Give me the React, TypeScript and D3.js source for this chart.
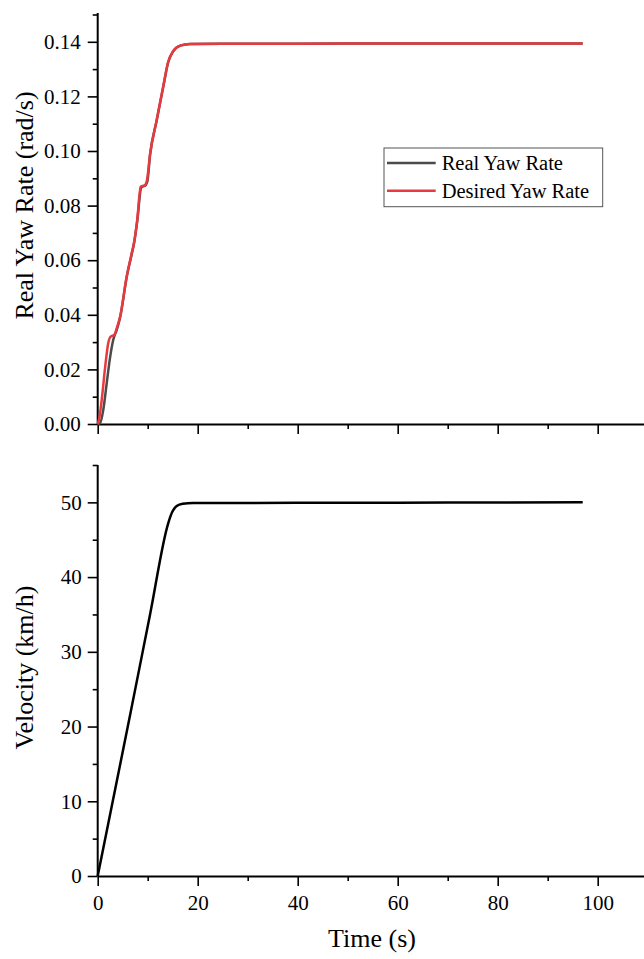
import React, { useEffect, useRef } from 'react';
import * as d3 from 'd3';

// time (s) and yaw rate (rad/s)
const desiredTime = [0, 0.3, 0.8, 1.5, 2.1, 2.6, 3.3, 3.8, 4.5, 5.8, 6.8, 7.3, 7.9, 8.6, 9.0, 9.3, 9.8, 10.5, 11.8, 13.1, 14.1, 15.1, 16.5, 18.5, 25, 40, 60, 80, 97];
const desiredYaw = [0, 0.002, 0.0088, 0.021, 0.0296, 0.032, 0.0326, 0.035, 0.0395, 0.054, 0.0625, 0.0668, 0.0747, 0.0869, 0.0872, 0.0873, 0.0888, 0.0992, 0.1114, 0.1236, 0.1327, 0.1366, 0.1386, 0.1392, 0.1393, 0.1393, 0.1394, 0.1394, 0.1394];

const realTime = [0, 0.46, 1.1, 1.8, 2.5, 3.1, 3.8, 4.5, 5.8, 6.8, 7.3, 7.9, 8.7, 9.1, 9.4, 9.9, 10.5, 11.8, 13.1, 14.1, 15.1, 16.5, 18.5, 25, 40, 60, 80, 97];
const realYaw = [0, 0.0003, 0.005, 0.0149, 0.0247, 0.0308, 0.0344, 0.0392, 0.0538, 0.0622, 0.0665, 0.0742, 0.0866, 0.0871, 0.0872, 0.0886, 0.099, 0.1112, 0.1234, 0.1325, 0.1365, 0.1386, 0.1392, 0.1393, 0.1393, 0.1394, 0.1394, 0.1394];

// time (s) and velocity (km/h)
const velTime = [0, 6.5, 10.5, 14.1, 14.9, 15.8, 17, 19.1, 30, 50, 70, 97];
const velocity = [0, 21.6, 35.1, 47.2, 48.7, 49.5, 49.8, 49.9, 49.92, 49.95, 49.97, 50.0];

const xMajor = [0, 20, 40, 60, 80, 100];
const xMinor = [10, 30, 50, 70, 90, 110];
const yawMajor = [0, 0.02, 0.04, 0.06, 0.08, 0.1, 0.12, 0.14];
const yawMinor = [0.01, 0.03, 0.05, 0.07, 0.09, 0.11, 0.13, 0.15];
const velMajor = [0, 10, 20, 30, 40, 50];
const velMinor = [5, 15, 25, 35, 45, 55];

const legendLabels = ['Real Yaw Rate', 'Desired Yaw Rate'];
const colors = ['#4b4b4b', '#e8393e'];

const W = 644, H = 959;
const FONT = 'Liberation Serif, Times New Roman, serif';

export default function App() {
  const ref = useRef<SVGSVGElement>(null);

  useEffect(() => {
    const svg = d3.select(ref.current);
    svg.selectAll('*').remove();

    const x = d3.scaleLinear().domain([0, 110]).range([97.7, 647.7]);
    const yTop = d3.scaleLinear().domain([0, 0.15]).range([424, 14.5]);
    const yBot = d3.scaleLinear().domain([0, 55]).range([876, 465]);

    const styleAxis = (g: any) => {
      g.attr('font-family', FONT).attr('font-size', 21);
      g.select('.domain').attr('stroke', '#000').attr('stroke-width', 2);
      g.selectAll('.tick line').attr('stroke', '#000').attr('stroke-width', 1.6);
      g.selectAll('.tick text').style('font-family', FONT).style('font-size', '21px').attr('fill', '#000');
    };

    // ----- top panel -----
    const gTopX = svg.append('g').attr('transform', 'translate(0,424)');
    gTopX.call(d3.axisBottom(x).tickValues(xMinor).tickSize(5).tickSizeOuter(0).tickFormat(() => ''));
    styleAxis(gTopX);
    const gTopX2 = svg.append('g').attr('transform', 'translate(0,424)');
    gTopX2.call(d3.axisBottom(x).tickValues(xMajor).tickSize(10).tickSizeOuter(0).tickFormat(() => ''));
    styleAxis(gTopX2);
    gTopX2.select('.domain').remove();

    const gTopY = svg.append('g').attr('transform', 'translate(97.7,0)');
    gTopY.call(d3.axisLeft(yTop).tickValues(yawMinor).tickSize(5).tickSizeOuter(0).tickFormat(() => ''));
    styleAxis(gTopY);
    const gTopY2 = svg.append('g').attr('transform', 'translate(97.7,0)');
    gTopY2.call(d3.axisLeft(yTop).tickValues(yawMajor).tickSize(10).tickPadding(7).tickSizeOuter(0).tickFormat(d3.format('.2f')));
    styleAxis(gTopY2);
    gTopY2.select('.domain').remove();
    gTopY.select('.domain').attr('d', 'M0,424V13');

    const line = d3.line<number>().curve(d3.curveMonotoneX);

    svg.append('path')
      .attr('d', line(realTime.map((t, i) => [x(t), yTop(realYaw[i])]) as any))
      .attr('fill', 'none').attr('stroke', colors[0]).attr('stroke-width', 2.5);
    svg.append('path')
      .attr('d', line(desiredTime.map((t, i) => [x(t), yTop(desiredYaw[i])]) as any))
      .attr('fill', 'none').attr('stroke', colors[1]).attr('stroke-width', 2.5);

    // legend
    const lg = svg.append('g').attr('transform', 'translate(384,148)');
    lg.append('rect').attr('width', 218.7).attr('height', 58.7)
      .attr('fill', '#fff').attr('stroke', '#555').attr('stroke-width', 1);
    legendLabels.forEach((lab, i) => {
      const yy = 15 + i * 27.7;
      lg.append('line').attr('x1', 3).attr('x2', 51.7).attr('y1', yy).attr('y2', yy)
        .attr('stroke', colors[i]).attr('stroke-width', 2.5);
      lg.append('text').attr('x', 57.7).attr('y', yy + 7).text(lab)
        .attr('font-family', FONT).attr('font-size', 20.5).attr('fill', '#000');
    });

    svg.append('text').attr('transform', 'translate(33,205.5) rotate(-90)')
      .attr('text-anchor', 'middle').attr('font-family', FONT).attr('font-size', 26)
      .text('Real Yaw Rate (rad/s)');

    // ----- bottom panel -----
    const gBotX = svg.append('g').attr('transform', 'translate(0,876)');
    gBotX.call(d3.axisBottom(x).tickValues(xMinor).tickSize(5).tickSizeOuter(0).tickFormat(() => ''));
    styleAxis(gBotX);
    const gBotX2 = svg.append('g').attr('transform', 'translate(0,876)');
    gBotX2.call(d3.axisBottom(x).tickValues(xMajor).tickSize(10).tickPadding(9).tickSizeOuter(0).tickFormat(d3.format('d')));
    styleAxis(gBotX2);
    gBotX2.select('.domain').remove();

    const gBotY = svg.append('g').attr('transform', 'translate(97.7,0)');
    gBotY.call(d3.axisLeft(yBot).tickValues(velMinor).tickSize(5).tickSizeOuter(0).tickFormat(() => ''));
    styleAxis(gBotY);
    const gBotY2 = svg.append('g').attr('transform', 'translate(97.7,0)');
    gBotY2.call(d3.axisLeft(yBot).tickValues(velMajor).tickSize(10).tickPadding(6).tickSizeOuter(0).tickFormat(d3.format('d')));
    styleAxis(gBotY2);
    gBotY2.select('.domain').remove();
    gBotY.select('.domain').attr('d', 'M0,876V465');

    svg.append('path')
      .attr('d', line(velTime.map((t, i) => [x(t), yBot(velocity[i])]) as any))
      .attr('fill', 'none').attr('stroke', '#000').attr('stroke-width', 2.5);

    svg.append('text').attr('transform', 'translate(33,667.5) rotate(-90)')
      .attr('text-anchor', 'middle').attr('font-family', FONT).attr('font-size', 26)
      .text('Velocity (km/h)');

    svg.append('text').attr('x', 372).attr('y', 947)
      .attr('text-anchor', 'middle').attr('font-family', FONT).attr('font-size', 26)
      .text('Time (s)');
  }, []);

  return (
    <svg ref={ref} width={W} height={H}
      style={{ position: 'absolute', left: 0, top: 0, background: '#fff' }} />
  );
}
